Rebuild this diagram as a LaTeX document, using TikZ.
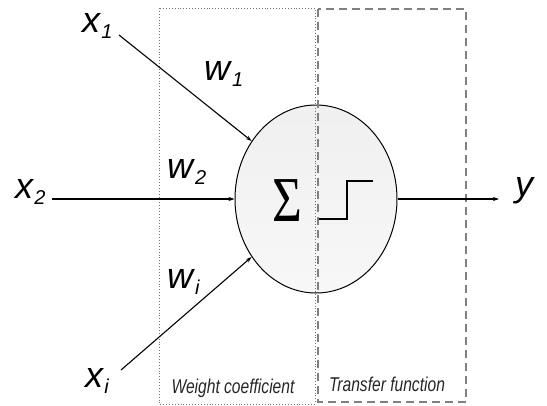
\documentclass[tikz,border=0pt]{standalone}
\usepackage{fontspec}
\usepackage{graphicx}
\setmainfont{Liberation Sans}
\newfontfamily\sigmafont{Liberation Serif}
\usetikzlibrary{shapes.geometric,arrows.meta}
\newcommand{\lbl}[2]{\textit{#1}\raisebox{-0.19em}{\fontsize{20}{20}\selectfont\textit{#2}}}
\newcommand{\narrow}[1]{\scalebox{0.78}[1]{#1}}
\tikzset{
  lab/.style={inner sep=0pt, font=\fontsize{36}{36}\selectfont},
  captxt/.style={inner sep=0pt, font=\fontsize{20}{20}\selectfont\itshape, text=black!85},
  wire/.style={line width=1.1pt, -{Stealth[length=6pt,width=4pt]}},
  neuron/.style={ellipse, draw=black, line width=1pt, top color=black!6, bottom color=black!3, minimum width=162pt, minimum height=188pt, inner sep=0pt},
  dotbox/.style={draw=black!55, dotted, line width=0.9pt},
  dashbox/.style={draw=black!50, dash pattern=on 8pt off 5pt, line width=1.1pt},
}
\begin{document}
\begin{tikzpicture}[x=1pt,y=-1pt]
\useasboundingbox (0,0) rectangle (547,405);
\node[neuron] (n) at (316,199) {};
% sigma and step
\node[inner sep=0pt] (sig) at (287,201) {\scalebox{0.8}[1]{\sigmafont\fontsize{64}{64}\selectfont Σ}};
\draw[line width=1.3pt] (318,219) -- (347,219) -- (347,181) -- (373,181);
% boxes
\draw[dotbox] (159,8) rectangle (315,404);
\draw[dashbox] (318,9) rectangle (466,402);
% labels
\node[lab, anchor=base west] (x1) at (82,32) {\lbl{x}{1}};
\node[lab, anchor=base west] (x2) at (15,198) {\lbl{x}{2}};
\node[lab, anchor=base west] (xi) at (85,387) {\lbl{x}{i}};
\node[lab, anchor=base west] (y) at (515,196) {\textit{y}};
\node[lab, anchor=base west] (w1) at (204,80) {\lbl{w}{1}};
\node[lab, anchor=base west] (w2) at (167,178) {\lbl{w}{2}};
\node[lab, anchor=base west] (wi) at (167,288) {\lbl{w}{i}};
\node[captxt, anchor=base] (wc) at (233,393) {\narrow{Weight coefficient}};
\node[captxt, anchor=base] (tf) at (387,391) {\narrow{Transfer function}};
% connectors
\coordinate (s1) at (119,35);
\coordinate (s2) at (52,199);
\coordinate (si) at (121,370);
\coordinate (out) at (499,199);
\draw[wire] (s1) -- (n.138);
\draw[wire] (s2) -- (n.west);
\draw[wire] (si) -- (n.222);
\draw[wire] (n.east) -- (out);
\end{tikzpicture}
\end{document}
